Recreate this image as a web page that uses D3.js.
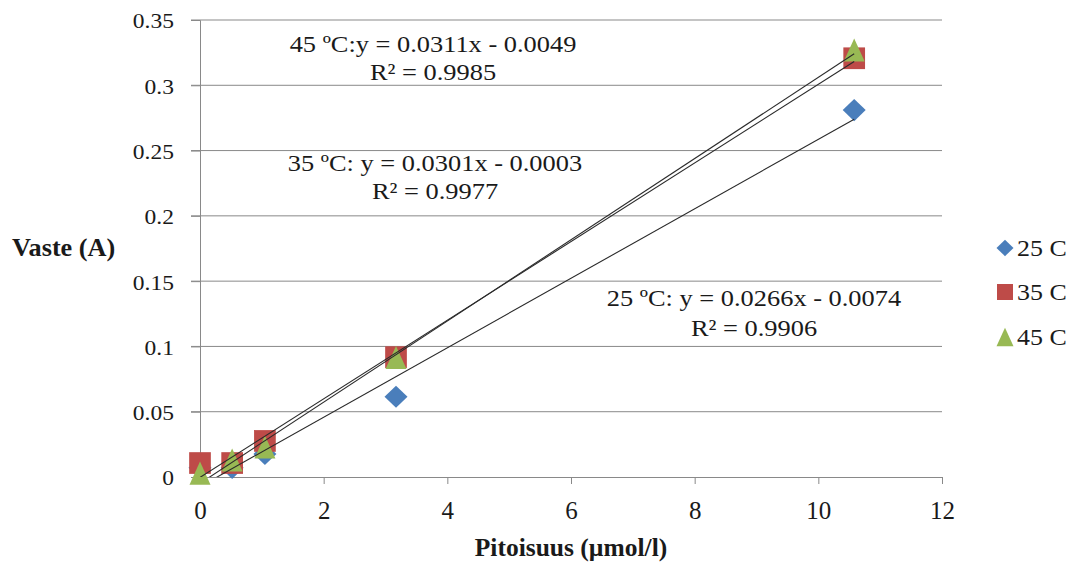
<!DOCTYPE html>
<html><head><meta charset="utf-8">
<script src="https://cdn.jsdelivr.net/npm/d3@7"></script>
<style>body{margin:0;background:#fff}svg{display:block}</style>
</head><body><svg id="c" width="1078" height="562"></svg>
<script>
const conc = [0, 0.52, 1.05, 3.17, 10.58];
const s25 = [0.007, 0.007, 0.0176, 0.0614, 0.281];
const s35 = [0.0107, 0.0107, 0.0276, 0.0918, 0.3207];
const s45 = [0.003, 0.013, 0.023, 0.0915, 0.327];
const seriesNames = ["25 C", "35 C", "45 C"];
const slopes = [0.0266, 0.0301, 0.0311];
const intercepts = [-0.0074, -0.0003, -0.0049];
const eqLabels = ["25 ºC: y = 0.0266x - 0.0074", "35 ºC: y = 0.0301x - 0.0003", "45 ºC:y = 0.0311x - 0.0049"];
const r2Labels = ["R² = 0.9906", "R² = 0.9977", "R² = 0.9985"];
const xTicks = [0, 2, 4, 6, 8, 10, 12];
const yTicks = [0, 0.05, 0.1, 0.15, 0.2, 0.25, 0.3, 0.35];

const FONT = '"Liberation Serif", "Times New Roman", Tinos, serif';
const svg = d3.select("#c");
const x = d3.scaleLinear().domain([0, 12]).range([200, 942]);
const y = d3.scaleLinear().domain([0, 0.35]).range([477, 20]);
const axisCol = "#898989";

function txt(g, px, py, str, size, sx, anchor, weight) {
  return g.append("text")
    .attr("transform", `translate(${px},${py}) scale(${sx},1)`)
    .attr("text-anchor", anchor || "start")
    .attr("font-family", FONT)
    .attr("font-size", size)
    .attr("font-weight", weight || "normal")
    .attr("fill", "#1a1a1a")
    .text(str);
}

// gridlines
svg.append("g").selectAll("line").data(yTicks.slice(1)).join("line")
  .attr("x1", 191).attr("x2", 942).attr("y1", d => y(d)).attr("y2", d => y(d))
  .attr("stroke", axisCol).attr("stroke-width", 1);

const yAx = svg.append("g").attr("transform", "translate(200,0)")
  .call(d3.axisLeft(y).tickValues(yTicks).tickFormat(d => String(+d.toFixed(2))).tickSize(9));
const xAx = svg.append("g").attr("transform", "translate(0,477)")
  .call(d3.axisBottom(x).tickValues(xTicks).tickSize(7));
[yAx, xAx].forEach(a => {
  a.select(".domain").attr("stroke", axisCol);
  a.selectAll(".tick line").attr("stroke", axisCol);
  a.selectAll("text").attr("font-family", FONT).attr("fill", "#1a1a1a");
});
const ySx = 1.12;
yAx.selectAll("text").attr("font-size", 21).attr("x", -26 / ySx).attr("dy", "0.38em")
  .attr("transform", `scale(${ySx},1)`);
xAx.selectAll("text").attr("font-size", 25).attr("y", 24).attr("dy", "0.71em");

// markers
const cols = ["#4a7ebb", "#be4b48", "#98b954"];
const diamond = { draw(ctx, size) { const w = Math.sqrt(size), h = w * 0.96;
  ctx.moveTo(0, -h / 2); ctx.lineTo(w / 2, 0); ctx.lineTo(0, h / 2); ctx.lineTo(-w / 2, 0); ctx.closePath(); } };
const square = { draw(ctx, size) { const w = Math.sqrt(size); ctx.rect(-w / 2, -w / 2, w, w); } };
const triangle = { draw(ctx, size) { const w = Math.sqrt(size), h = w * 1.1;
  ctx.moveTo(0, -h / 2); ctx.lineTo(w / 2, h / 2); ctx.lineTo(-w / 2, h / 2); ctx.closePath(); } };
const types = [diamond, square, triangle];
const mSizes = [23 * 23, 21.7 * 21.7, 21 * 21];
const data = [s25, s35, s45];
data.forEach((s, i) => {
  svg.append("g").selectAll("path").data(s).join("path")
    .attr("d", d3.symbol(types[i], mSizes[i])())
    .attr("transform", (d, j) => `translate(${x(conc[j])},${y(d)})`)
    .attr("fill", cols[i]);
});

// trendlines (on top of markers)
svg.append("defs").append("clipPath").attr("id", "pc").append("rect")
  .attr("x", 200).attr("y", 20).attr("width", 742).attr("height", 457);
const xmin = d3.min(conc), xmax = d3.max(conc);
svg.append("g").attr("clip-path", "url(#pc)").selectAll("line").data(slopes).join("line")
  .attr("x1", x(xmin)).attr("x2", x(xmax))
  .attr("y1", (d, i) => y(d * xmin + intercepts[i]))
  .attr("y2", (d, i) => y(d * xmax + intercepts[i]))
  .attr("stroke", "#2a2a2a").attr("stroke-width", 1.1);

// annotations
const annPos = [[754, 306, 336], [435, 171, 199], [433, 52, 80]];
const annG = svg.append("g");
eqLabels.forEach((t, i) => {
  txt(annG, annPos[i][0], annPos[i][1], t, 24, 1.1, "middle");
  txt(annG, annPos[i][0], annPos[i][2], r2Labels[i], 24, 1.1, "middle");
});

// axis titles
txt(svg, 12, 256, "Vaste (A)", 25, 1.05, "start", "bold");
txt(svg, 571, 556, "Pitoisuus (µmol/l)", 25, 1.02, "middle", "bold");

// legend
const lg = svg.append("g");
const lSizes = [17 * 17, 16 * 16, 17 * 17];
const lRows = [248, 292, 337];
seriesNames.forEach((n, i) => {
  lg.append("path")
    .attr("d", d3.symbol(types[i], lSizes[i])())
    .attr("transform", `translate(1005,${lRows[i]})`)
    .attr("fill", cols[i]);
  txt(lg, 1017, lRows[i] + 8, n, 24, 1.08, "start");
});
</script></body></html>
